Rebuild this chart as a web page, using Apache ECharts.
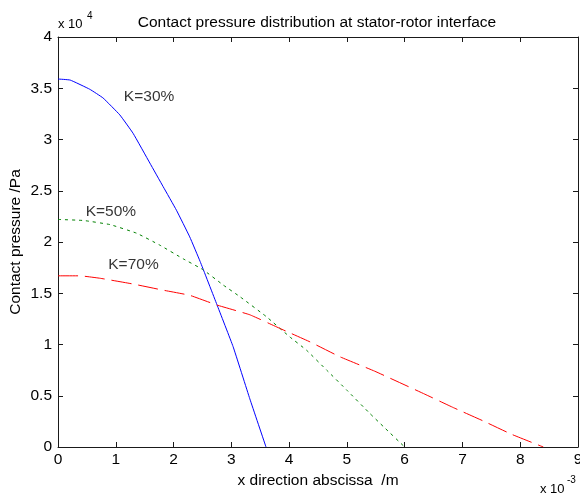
<!DOCTYPE html>
<html>
<head>
<meta charset="utf-8">
<script src="https://cdn.jsdelivr.net/npm/echarts@6/dist/echarts.min.js"></script>
<style>html,body{margin:0;padding:0;background:#fff}#c{width:580px;height:495px}</style>
</head>
<body>
<div id="c"></div>
<script>
// x in units of 1e-3 m, y in units of 1e4 Pa
var k30X = [0, 0.21, 0.55, 0.78, 1.07, 1.30, 1.59, 1.82, 2.05, 2.28, 2.46, 2.75, 3.03, 3.32, 3.6];
var k30Y = [3.59, 3.58, 3.49, 3.405, 3.24, 3.06, 2.77, 2.54, 2.31, 2.05, 1.81, 1.39, 0.98, 0.47, 0];
var k50X = [0, 0.44, 0.90, 1.36, 1.76, 2.17, 2.51, 2.86, 3.15, 3.61, 4.01, 4.30, 4.65, 5.0, 5.40, 5.63, 6.0];
var k50Y = [2.22, 2.21, 2.17, 2.086, 1.97, 1.835, 1.73, 1.58, 1.466, 1.27, 1.075, 0.945, 0.75, 0.554, 0.326, 0.2, 0];
var k70X = [0, 0.38, 0.73, 1.30, 1.82, 2.28, 2.75, 3.32, 3.84, 4.36, 4.88, 5.48, 6.35, 6.84, 7.36, 7.85, 8.4];
var k70Y = [1.67, 1.67, 1.646, 1.59, 1.53, 1.48, 1.385, 1.29, 1.157, 1.026, 0.88, 0.74, 0.515, 0.385, 0.254, 0.124, 0];
var seriesNames = ['K=30%', 'K=50%', 'K=70%'];
var labelPos = [[1.14, 3.42], [0.48, 2.30], [0.87, 1.78]];
var titleText = 'Contact pressure distribution at stator-rotor interface';
var xName = 'x direction abscissa  /m';
var yName = 'Contact pressure /Pa';

function pairs(xs, ys) { return xs.map(function (x, i) { return [x, ys[i]]; }); }

var FONT = 'Liberation Sans, Arial, sans-serif';
var FS = 15.5;
var axisCol = '#1a1a1a';
function mkX(pos, show) {
  return {
    type: 'value', position: pos, min: 0, max: 9, interval: 1,
    axisLine: { show: true, onZero: false, lineStyle: { color: axisCol, width: 1 } },
    axisTick: { show: true, inside: true, length: 5, lineStyle: { color: axisCol } },
    axisLabel: { show: show, color: '#000', fontFamily: FONT, fontSize: FS, margin: 5 },
    splitLine: { show: false },
    name: show ? xName : '', nameLocation: 'middle', nameGap: 26,
    nameTextStyle: { color: '#000', fontFamily: FONT, fontSize: FS }
  };
}
function mkY(pos, show) {
  return {
    type: 'value', position: pos, min: 0, max: 4, interval: 0.5,
    axisLine: { show: true, onZero: false, lineStyle: { color: axisCol, width: 1 } },
    axisTick: { show: true, inside: true, length: 5, lineStyle: { color: axisCol } },
    axisLabel: { show: show, color: '#000', fontFamily: FONT, fontSize: FS, margin: 6 },
    splitLine: { show: false },
    name: show ? yName : '', nameLocation: 'middle', nameGap: 34, nameRotate: 90,
    nameMoveOverlap: false,
    nameTextStyle: { color: '#000', fontFamily: FONT, fontSize: FS }
  };
}

var chart = echarts.init(document.getElementById('c'), null, { renderer: 'canvas' });
var colors = ['#0000ff', '#008000', '#ff0000'];
var dashes = ['solid', [3, 4], [20, 7]];
var datas = [pairs(k30X, k30Y), pairs(k50X, k50Y), pairs(k70X, k70Y)];

var series = datas.map(function (d, i) {
  return {
    type: 'line', name: seriesNames[i], data: d, xAxisIndex: 0, yAxisIndex: 0,
    showSymbol: false, symbol: 'none', smooth: 0.1, animation: false,
    lineStyle: { color: colors[i], width: 1, type: dashes[i] }, z: 3
  };
});
series.push({
  type: 'scatter', xAxisIndex: 0, yAxisIndex: 0, symbolSize: 0, animation: false,
  data: labelPos.map(function (p, i) { return { value: p, name: seriesNames[i] }; }),
  label: { show: true, position: 'right', distance: 0, formatter: '{b}', color: '#000', fontFamily: FONT, fontSize: FS }
});

var small = { fontFamily: FONT, fontSize: 13, fill: '#000' };
var sup = { fontFamily: FONT, fontSize: 10, fill: '#000' };
chart.setOption({
  backgroundColor: '#fff',
  animation: false,
  title: {
    text: titleText, left: 312, top: 10, textAlign: 'center',
    textStyle: { color: '#000', fontFamily: FONT, fontSize: FS, fontWeight: 'normal' }
  },
  grid: { left: 58, right: 2, top: 37, bottom: 48, containLabel: false, outerBoundsMode: 'none' },
  xAxis: [mkX('bottom', true), mkX('top', false)],
  yAxis: [mkY('left', true), mkY('right', false)],
  graphic: [
    { type: 'text', left: 58, top: 18, style: Object.assign({ text: 'x 10' }, small) },
    { type: 'text', left: 87, top: 11, style: Object.assign({ text: '4' }, sup) },
    { type: 'text', left: 540, top: 483, style: Object.assign({ text: 'x 10' }, small) },
    { type: 'text', left: 567, top: 475, style: Object.assign({ text: '-3' }, sup) }
  ],
  series: series
});
</script>
</body>
</html>
